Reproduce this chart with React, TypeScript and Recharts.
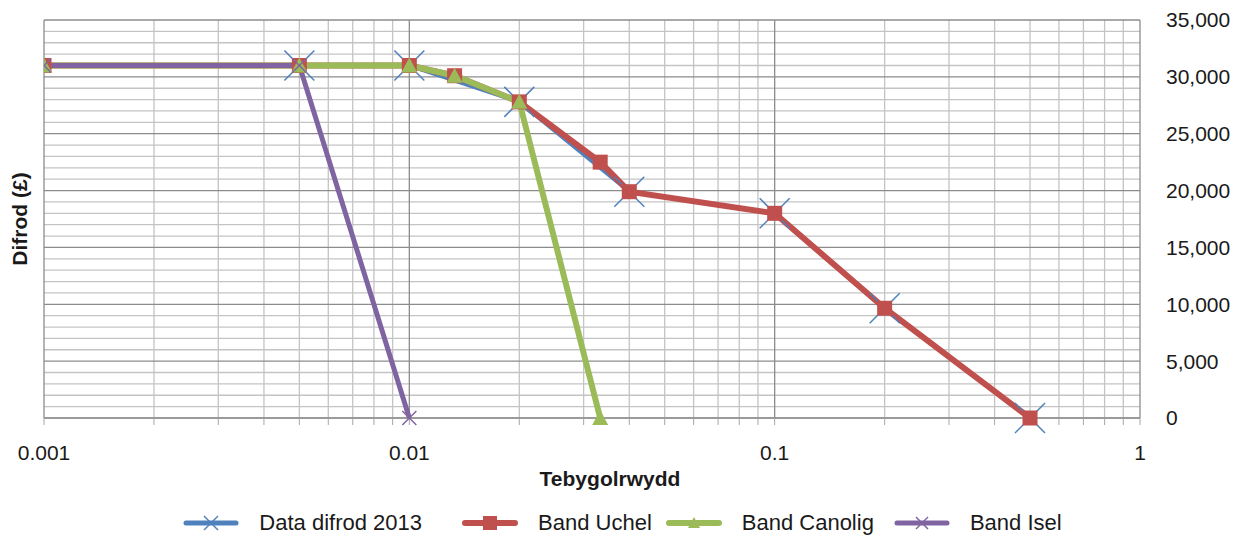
import { CartesianGrid, Label, Legend, Line, LineChart, XAxis, YAxis } from "recharts";

// x axis (log): decade labels, plus every minor position for grid and tick marks
const xDecades = [0.001, 0.01, 0.1, 1];
const xAllTicks = [
  0.001, 0.002, 0.003, 0.004, 0.005, 0.006, 0.007, 0.008, 0.009,
  0.01, 0.02, 0.03, 0.04, 0.05, 0.06, 0.07, 0.08, 0.09,
  0.1, 0.2, 0.3, 0.4, 0.5, 0.6, 0.7, 0.8, 0.9, 1,
];
const xMinor = xAllTicks.filter((v) => !xDecades.includes(v));

const yMajor = [0, 5000, 10000, 15000, 20000, 25000, 30000, 35000];
const yMinor = [
  1000, 2000, 3000, 4000, 6000, 7000, 8000, 9000, 11000, 12000, 13000, 14000,
  16000, 17000, 18000, 19000, 21000, 22000, 23000, 24000, 26000, 27000, 28000,
  29000, 31000, 32000, 33000, 34000,
];

// series
const difrodX = [0.005, 0.01, 0.02, 0.04, 0.1, 0.2, 0.5];
const difrodY = [31000, 31000, 27800, 19900, 18000, 9650, 0];
const uchelX = [0.001, 0.005, 0.01, 0.0133, 0.02, 0.0333, 0.04, 0.1, 0.2, 0.5];
const uchelY = [31000, 31000, 31000, 30100, 27800, 22500, 19900, 18000, 9650, 0];
const canoligX = [0.001, 0.005, 0.01, 0.0133, 0.02, 0.0333];
const canoligY = [31000, 31000, 31000, 30100, 27800, 0];
const iselX = [0.001, 0.005, 0.01];
const iselY = [31000, 31000, 0];

const BLUE = "#4F81BD";
const RED = "#C0504D";
const GREEN = "#9BBB59";
const PURPLE = "#8064A2";
const FONT = "'Liberation Sans', Arial, sans-serif";

function toPoints(xs: number[], ys: number[]) {
  return xs.map((x, i) => ({ x, y: ys[i] }));
}

type Shape = "cross" | "square" | "triangle" | "x";

function MarkerShape({ shape, cx, cy, color, small }: { shape: Shape; cx: number; cy: number; color: string; small?: boolean }) {
  if (shape === "square") {
    const s = small ? 7 : 7.5;
    return <rect x={cx - s} y={cy - s} width={s * 2} height={s * 2} fill={color} />;
  }
  if (shape === "triangle") {
    const s = small ? 6 : 8;
    return <polygon points={`${cx},${cy - s} ${cx + s},${cy + s - 1} ${cx - s},${cy + s - 1}`} fill={color} />;
  }
  const h = shape === "cross" ? (small ? 7 : 15) : small ? 6 : 7;
  return (
    <g stroke={color} strokeWidth={1.5}>
      <line x1={cx - h} y1={cy - h} x2={cx + h} y2={cy + h} />
      <line x1={cx - h} y1={cy + h} x2={cx + h} y2={cy - h} />
    </g>
  );
}

function makeDot(shape: Shape, color: string) {
  return (props: any) => {
    const { cx, cy, index } = props;
    if (cx == null || cy == null) return <g key={`d-${index}`} />;
    return (
      <g key={`d-${index}`}>
        <MarkerShape shape={shape} cx={cx} cy={cy} color={color} />
      </g>
    );
  };
}

const legendItems: { name: string; color: string; shape: Shape; width: number; after: number }[] = [
  { name: "Data difrod 2013", color: BLUE, shape: "cross", width: 5, after: 40 },
  { name: "Band Uchel", color: RED, shape: "square", width: 6, after: 14 },
  { name: "Band Canolig", color: GREEN, shape: "triangle", width: 6, after: 20 },
  { name: "Band Isel", color: PURPLE, shape: "x", width: 5, after: 0 },
];

function renderLegend() {
  return (
    <div
      style={{
        display: "flex",
        justifyContent: "center",
        alignItems: "center",
        fontFamily: FONT,
        fontSize: 22,
        lineHeight: "25px",
        color: "#1a1a1a",
      }}
    >
      {legendItems.map((it) => (
        <div key={it.name} style={{ display: "flex", alignItems: "center", marginRight: it.after }}>
          <svg width={56} height={24} style={{ marginRight: 20 }}>
            <line x1={3} y1={12} x2={53} y2={12} stroke={it.color} strokeWidth={it.width} strokeLinecap="round" />
            <MarkerShape shape={it.shape} cx={28} cy={12} color={it.color} small />
          </svg>
          <span>{it.name}</span>
        </div>
      ))}
    </div>
  );
}

export default function App() {
  const tickStyle = { fontSize: 21, fill: "#1a1a1a", fontFamily: FONT };
  return (
    <div style={{ position: "absolute", left: 0, top: 0, width: 1245, height: 537, background: "#fff" }}>
      <LineChart width={1245} height={537} margin={{ top: 20, right: 0, left: 0, bottom: 0 }} style={{ fontFamily: FONT }}>
        <CartesianGrid horizontalValues={yMinor} verticalValues={xMinor} stroke="#c4c4c4" strokeWidth={1.3} />
        <CartesianGrid horizontalValues={yMajor} verticalValues={xDecades} stroke="#8c8c8c" strokeWidth={1.3} />
        <XAxis
          dataKey="x"
          type="number"
          scale="log"
          domain={[0.001, 1]}
          allowDataOverflow
          ticks={xAllTicks}
          interval={0}
          tickFormatter={(v: number) => (xDecades.includes(v) ? String(v) : "")}
          tick={tickStyle}
          tickSize={7}
          tickMargin={20}
          tickLine={{ stroke: "#a6a6a6" }}
          axisLine={{ stroke: "#8c8c8c" }}
          height={119}
        >
          <Label
            value="Tebygolrwydd"
            position="insideBottom"
            offset={51}
            dx={18}
            style={{ fontSize: 21, fontWeight: "bold", fill: "#1a1a1a", fontFamily: FONT }}
          />
        </XAxis>
        <YAxis
          orientation="right"
          type="number"
          domain={[0, 35000]}
          ticks={yMajor}
          interval={0}
          tickFormatter={(v: number) => v.toLocaleString("en-US")}
          tick={tickStyle}
          tickLine={false}
          axisLine={false}
          tickSize={0}
          tickMargin={26}
          width={105}
        />
        <YAxis yAxisId="lbl" orientation="left" type="number" domain={[0, 35000]} width={44} tick={false} tickLine={false} axisLine={false}>
          <Label
            value="Difrod (£)"
            angle={-90}
            position="center"
            dx={-2}
            style={{ fontSize: 21, fontWeight: "bold", fill: "#1a1a1a", fontFamily: FONT, textAnchor: "middle" }}
          />
        </YAxis>
        <Legend verticalAlign="middle" align="center" layout="horizontal" content={renderLegend} wrapperStyle={{ top: 510, left: 0, width: 1245 }} />
        <Line data={toPoints(difrodX, difrodY)} dataKey="y" name="Data difrod 2013" type="linear" stroke={BLUE} strokeWidth={4} dot={makeDot("cross", BLUE)} activeDot={false} isAnimationActive={false} />
        <Line data={toPoints(uchelX, uchelY)} dataKey="y" name="Band Uchel" type="linear" stroke={RED} strokeWidth={6} dot={makeDot("square", RED)} activeDot={false} isAnimationActive={false} />
        <Line data={toPoints(canoligX, canoligY)} dataKey="y" name="Band Canolig" type="linear" stroke={GREEN} strokeWidth={6} dot={makeDot("triangle", GREEN)} activeDot={false} isAnimationActive={false} />
        <Line data={toPoints(iselX, iselY)} dataKey="y" name="Band Isel" type="linear" stroke={PURPLE} strokeWidth={5} dot={makeDot("x", PURPLE)} activeDot={false} isAnimationActive={false} />
      </LineChart>
    </div>
  );
}
